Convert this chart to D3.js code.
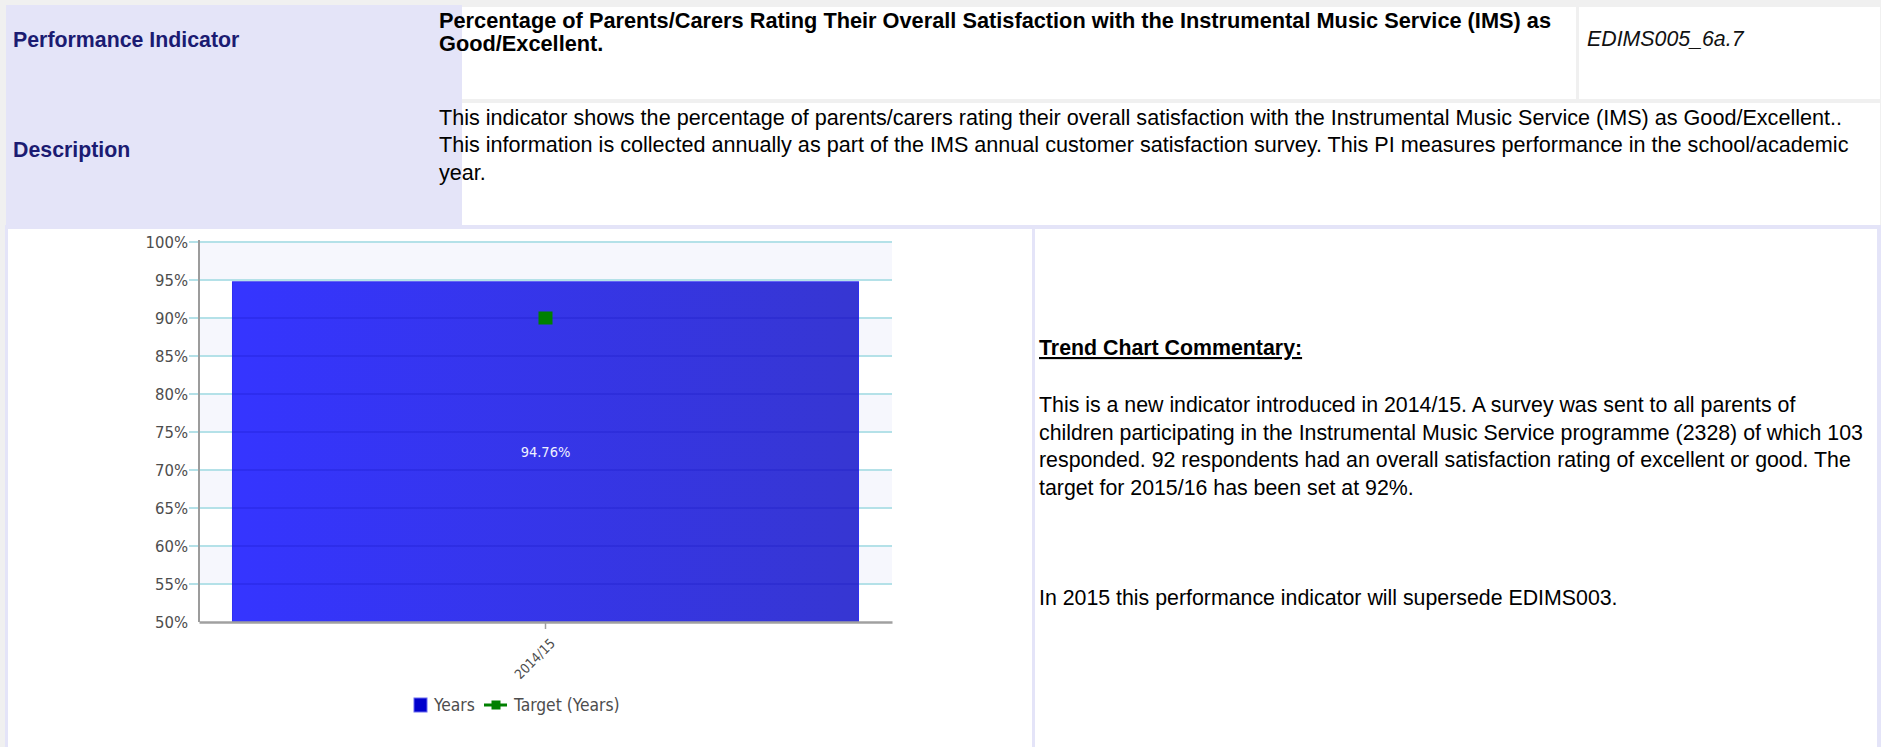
<!DOCTYPE html>
<html>
<head>
<meta charset="utf-8">
<script src="https://cdn.jsdelivr.net/npm/d3@7"></script>
<style>
  html, body { margin: 0; padding: 0; background: #f0f0f0; overflow: hidden; }
  svg { display: block; }
</style>
</head>
<body>
<svg id="page" width="1881" height="747"></svg>
<script>
// ---- Chart data ----
const categories = ["2014/15"];
const yearsValues = [94.76];
const targetValues = [90];
const yTickValues = [50, 55, 60, 65, 70, 75, 80, 85, 90, 95, 100];
const seriesNames = ["Years", "Target (Years)"];

// ---- Report text ----
const indicatorLabel = "Performance Indicator";
const descriptionLabel = "Description";
const titleLines = [
  "Percentage of Parents/Carers Rating Their Overall Satisfaction with the Instrumental Music Service (IMS) as",
  "Good/Excellent."
];
const indicatorCode = "EDIMS005_6a.7";
const descriptionLines = [
  "This indicator shows the percentage of parents/carers rating their overall satisfaction with the Instrumental Music Service (IMS) as Good/Excellent..",
  "This information is collected annually as part of the IMS annual customer satisfaction survey. This PI measures performance in the school/academic",
  "year."
];
const commentaryHeading = "Trend Chart Commentary:";
const commentaryLines = [
  "This is a new indicator introduced in 2014/15. A survey was sent to all parents of",
  "children participating in the Instrumental Music Service programme (2328) of which 103",
  "responded. 92 respondents had an overall satisfaction rating of excellent or good. The",
  "target for 2015/16 has been set at 92%."
];
const commentaryNote = "In 2015 this performance indicator will supersede EDIMS003.";

// ---- Page frame ----
const svg = d3.select("#page");
const SANS = "'Liberation Sans', Arial, sans-serif";
const CHART_FONT = "'DejaVu Sans Condensed', 'DejaVu Sans', sans-serif";
const LAVENDER = "#e4e4f8";
const NAVY = "#1b1b72";
const BODY_SIZE = 21.33;

const cells = [
  { x: 6, y: 5, w: 456, h: 221, fill: LAVENDER },          // label column
  { x: 462, y: 7, w: 1114, h: 92, fill: "#ffffff" },        // title
  { x: 1579, y: 7, w: 301, h: 92, fill: "#ffffff" },        // code
  { x: 462, y: 103, w: 1418, h: 122, fill: "#ffffff" },     // description
  { x: 5, y: 225, w: 1876, h: 4, fill: LAVENDER },          // section rule
  { x: 5, y: 229, w: 1876, h: 518, fill: LAVENDER },        // lower frame
  { x: 8, y: 229, w: 1024, h: 518, fill: "#ffffff" },       // chart cell
  { x: 1035, y: 229, w: 842, h: 518, fill: "#ffffff" }      // commentary cell
];
svg.append("g").selectAll("rect").data(cells).join("rect")
  .attr("x", d => d.x).attr("y", d => d.y)
  .attr("width", d => d.w).attr("height", d => d.h)
  .attr("fill", d => d.fill);

const text = svg.append("g").attr("font-family", SANS).attr("font-size", BODY_SIZE);

text.append("text").attr("x", 13).attr("y", 47)
  .attr("font-weight", "bold").attr("fill", NAVY).text(indicatorLabel);
text.append("text").attr("x", 13).attr("y", 157)
  .attr("font-weight", "bold").attr("fill", NAVY).text(descriptionLabel);

text.append("g").attr("font-weight", "bold").attr("fill", "#000").attr("font-size", 21.75)
  .selectAll("text").data(titleLines).join("text")
  .attr("x", 439).attr("y", (d, i) => 28 + i * 22.5).text(d => d);

text.append("text").attr("x", 1587).attr("y", 46)
  .attr("font-style", "italic").attr("fill", "#111").text(indicatorCode);

text.append("g").attr("fill", "#000").attr("font-size", 21.6)
  .selectAll("text").data(descriptionLines).join("text")
  .attr("x", 439).attr("y", (d, i) => 125 + i * 27.3).text(d => d);

text.append("text").attr("x", 1039).attr("y", 355)
  .attr("font-weight", "bold").attr("fill", "#000")
  .style("text-decoration", "underline").text(commentaryHeading);

text.append("g").attr("fill", "#000")
  .selectAll("text").data(commentaryLines).join("text")
  .attr("x", 1039).attr("y", (d, i) => 412 + i * 27.7).text(d => d);

text.append("text").attr("x", 1039).attr("y", 605).attr("fill", "#000").text(commentaryNote);

// ---- Chart ----
const plot = { left: 199, right: 892, top: 242, bottom: 622 };

const x = d3.scaleBand()
  .domain(categories)
  .range([plot.left, plot.right])
  .paddingInner(0)
  .paddingOuter(0.0535);

const y = d3.scaleLinear()
  .domain([d3.min(yTickValues), d3.max(yTickValues)])
  .range([plot.bottom, plot.top]);

const chart = svg.append("g");

const defs = svg.append("defs");
const grad = defs.append("linearGradient").attr("id", "barFill")
  .attr("x1", "0%").attr("x2", "100%").attr("y1", "0%").attr("y2", "0%");
grad.append("stop").attr("offset", "0%").attr("stop-color", "#3535ff");
grad.append("stop").attr("offset", "100%").attr("stop-color", "#3636d2");

// alternating plot bands
const bandPairs = d3.pairs(yTickValues);
chart.append("g").selectAll("rect").data(bandPairs).join("rect")
  .attr("x", plot.left)
  .attr("width", plot.right - plot.left)
  .attr("y", d => y(d[1]))
  .attr("height", d => y(d[0]) - y(d[1]))
  .attr("fill", d => ((d3.max(yTickValues) - d[1]) / 5) % 2 === 0 ? "#f6f7fd" : "#ffffff");

// horizontal grid lines with tick stubs
chart.append("g").selectAll("line").data(yTickValues.filter(v => v > yTickValues[0])).join("line")
  .attr("x1", plot.left - 10).attr("x2", plot.right)
  .attr("y1", d => y(d)).attr("y2", d => y(d))
  .attr("stroke", "#b4e1e8").attr("stroke-width", 2);

// y axis labels
const yAxis = d3.axisLeft(y)
  .tickValues(yTickValues)
  .tickFormat(d => d + "%")
  .tickSize(0)
  .tickPadding(11);
chart.append("g")
  .attr("transform", `translate(${plot.left},0)`)
  .call(yAxis)
  .call(g => g.select(".domain").remove())
  .call(g => g.selectAll("text")
    .attr("font-family", CHART_FONT)
    .attr("font-size", 16.5)
    .attr("fill", "#4d4d4d"));

// bars
const bars = chart.append("g");
bars.selectAll("rect").data(categories).join("rect")
  .attr("x", d => x(d))
  .attr("width", x.bandwidth())
  .attr("y", (d, i) => y(yearsValues[i]))
  .attr("height", (d, i) => y(yTickValues[0]) - y(yearsValues[i]))
  .attr("fill", "url(#barFill)")
  .attr("stroke", "#2f2ff0")
  .attr("stroke-width", 1);

// grid lines showing through the bar
categories.forEach((c, i) => {
  bars.append("g").selectAll("line")
    .data(yTickValues.filter(v => v > yTickValues[0] && v < yearsValues[i]))
    .join("line")
    .attr("x1", x(c)).attr("x2", x(c) + x.bandwidth())
    .attr("y1", d => y(d)).attr("y2", d => y(d))
    .attr("stroke", "#1010c0").attr("stroke-opacity", 0.22).attr("stroke-width", 2);
});

// value labels
bars.selectAll("text").data(categories).join("text")
  .attr("x", d => x(d) + x.bandwidth() / 2)
  .attr("y", (d, i) => (y(yearsValues[i]) + y(yTickValues[0])) / 2)
  .attr("dy", "0.35em")
  .attr("text-anchor", "middle")
  .attr("font-family", CHART_FONT)
  .attr("font-size", 14.5)
  .attr("fill", "#eef0ff")
  .text((d, i) => d3.format(".2f")(yearsValues[i]) + "%");

// y axis line
chart.append("line")
  .attr("x1", plot.left).attr("x2", plot.left)
  .attr("y1", plot.top - 2).attr("y2", plot.bottom)
  .attr("stroke", "#9c9c9c").attr("stroke-width", 2);

// x axis
const xAxis = d3.axisBottom(x).tickSize(7).tickSizeOuter(0).tickPadding(4);
const gx = chart.append("g")
  .attr("transform", `translate(0,${plot.bottom})`)
  .call(xAxis);
gx.select(".domain").attr("stroke", "#a0a0a0").attr("stroke-width", 2.5);
gx.selectAll(".tick line").attr("stroke", "#a0a0a0").attr("stroke-width", 1.5);
gx.selectAll(".tick text")
  .attr("font-family", CHART_FONT)
  .attr("font-size", 13.5)
  .attr("fill", "#4d4d4d")
  .attr("text-anchor", "end")
  .attr("dy", "0.35em")
  .attr("transform", "translate(7,19) rotate(-45)")
  .attr("x", 0).attr("y", 0);

// target markers
chart.append("g").selectAll("rect").data(categories).join("rect")
  .attr("x", d => x(d) + x.bandwidth() / 2 - 7)
  .attr("y", (d, i) => y(targetValues[i]) - 6.5)
  .attr("width", 14).attr("height", 13)
  .attr("fill", "#008000");

// legend
const legend = svg.append("g")
  .attr("transform", "translate(414,705)")
  .attr("font-family", CHART_FONT)
  .attr("font-size", 17.3)
  .attr("fill", "#4d4d4d");

legend.append("rect").attr("x", 0).attr("y", -7).attr("width", 13).attr("height", 14)
  .attr("fill", "#0000cc").attr("stroke", "#6a6af0").attr("stroke-width", 1);
legend.append("text").attr("x", 20).attr("dy", "0.35em").text(seriesNames[0]);

legend.append("line").attr("x1", 70).attr("x2", 93).attr("y1", 0).attr("y2", 0)
  .attr("stroke", "#008000").attr("stroke-width", 3);
legend.append("rect").attr("x", 77.5).attr("y", -4.5).attr("width", 9).attr("height", 9)
  .attr("fill", "#008000");
legend.append("text").attr("x", 100).attr("dy", "0.35em").text(seriesNames[1]);
</script>
</body>
</html>
